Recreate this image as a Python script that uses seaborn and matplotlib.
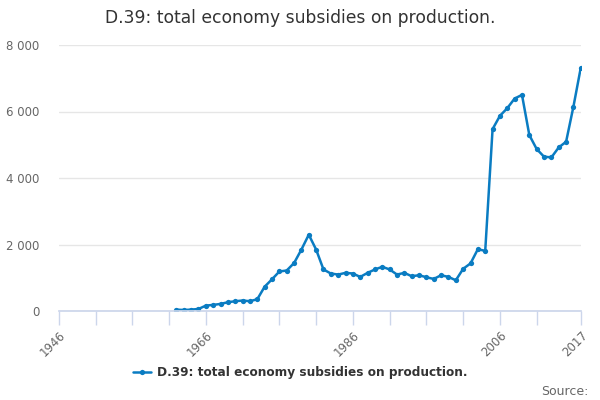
import numpy as np
import pandas as pd
import seaborn as sns
import matplotlib
matplotlib.use("Agg")
import matplotlib.pyplot as plt

years = list(range(1962, 2018))
subsidies = [41, 30, 41, 61, 162, 183, 213, 264, 294, 315, 294, 355, 731, 954,
             1188, 1218, 1442, 1848, 2294, 1848, 1249, 1127, 1096, 1147, 1127,
             1025, 1147, 1249, 1330, 1249, 1096, 1147, 1046, 1076, 1015, 964,
             1076, 1025, 924, 1269, 1431, 1860, 1807, 5470, 5870, 6100, 6390,
             6500, 5290, 4870, 4640, 4620, 4920, 5090, 6150, 7320]
label = "D.39: total economy subsidies on production."
tick_years = list(range(1946, 2012, 5)) + [2017]
label_years = [1946, 1966, 1986, 2006, 2017]

data = pd.DataFrame({"year": years, "value": subsidies})

sns.set_theme(style="white")
plt.rcParams['font.family'] = ['DejaVu Sans']

fig = plt.figure(figsize=(6, 4), dpi=100)
ax = fig.add_axes([0.098, 0.2225, 0.87, 0.665])

sns.lineplot(x="year", y="value", data=data, ax=ax, color="#0a7cc2",
             marker="o", markersize=3.8, markeredgewidth=0, linewidth=1.8,
             label=label, legend=False)

ax.set_xlim(1946, 2017)
ax.set_ylim(0, 8000)
ax.set_yticks([0, 2000, 4000, 6000, 8000])
ax.set_yticklabels(["0", "2 000", "4 000", "6 000", "8 000"])
ax.yaxis.grid(True, color="#e6e6e6", linewidth=1)
ax.set_xticks(tick_years)
ax.set_xticklabels([str(y) if y in label_years else "" for y in tick_years],
                   rotation=45, ha="right", rotation_mode="anchor")
ax.tick_params(axis="x", length=10, color="#ccd6eb", width=1, labelsize=8.5,
               labelcolor="#666666", pad=3, bottom=True)
ax.tick_params(axis="y", length=0, labelsize=8.5, labelcolor="#666666", pad=14)
ax.set_xlabel("")
ax.set_ylabel("")
for side in ["top", "right", "left"]:
    ax.spines[side].set_visible(False)
ax.spines["bottom"].set_color("#ccd6eb")

fig.text(0.5, 0.955, label, ha="center", va="center", fontsize=12.3, color="#333333")

handles, labels = ax.get_legend_handles_labels()
fig.legend(handles, labels, loc="center", bbox_to_anchor=(0.5, 0.068), frameon=False,
           prop={"weight": "bold", "size": 8.7}, labelcolor="#333333", handlelength=1.5,
           handletextpad=0.5)
fig.text(0.98, 0.022, "Source:", ha="right", va="center", fontsize=9, color="#666666")

fig.savefig("out.png", dpi=100)
